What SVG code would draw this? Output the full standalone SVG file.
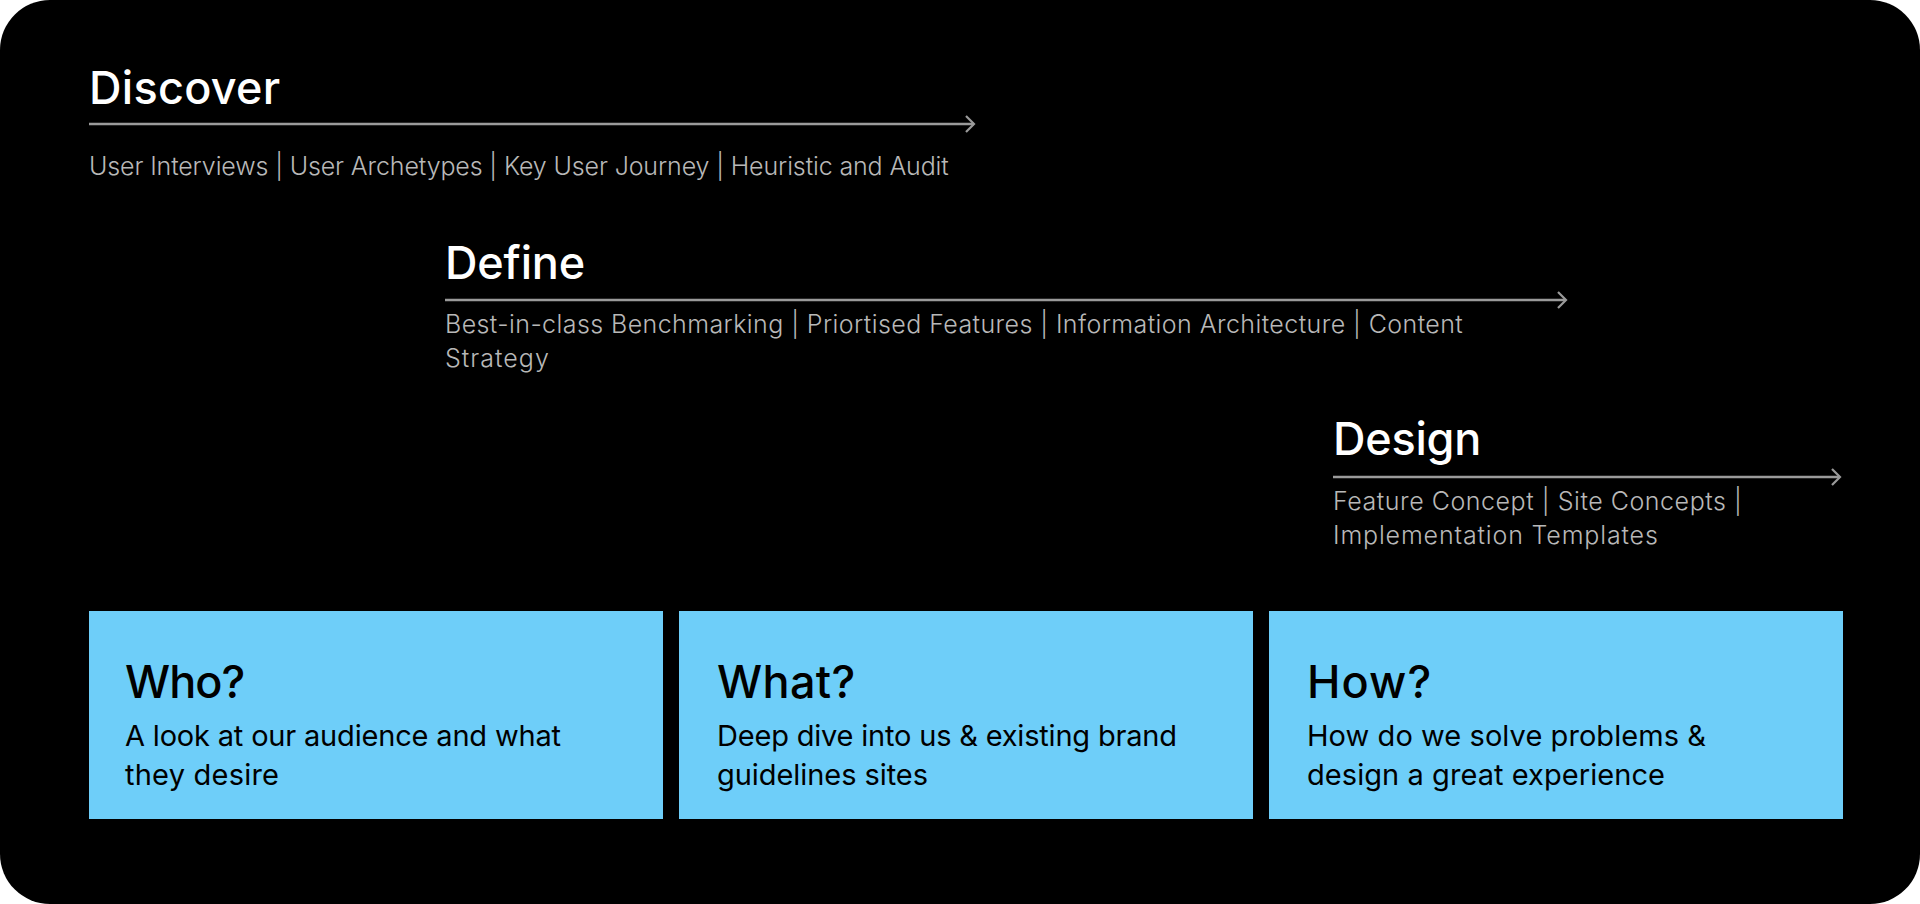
<svg xmlns="http://www.w3.org/2000/svg" width="1920" height="904" viewBox="0 0 1920 904">
<defs>
<style>
.h{font-family:Inter,"Liberation Sans",sans-serif;font-size:45px;font-weight:500;fill:#fff;letter-spacing:-1.2px}
.s{font-family:Inter,"Liberation Sans",sans-serif;font-size:25px;font-weight:300;fill:#b8b8b8;letter-spacing:-0.8px}
.bh{font-family:Inter,"Liberation Sans",sans-serif;font-size:45px;font-weight:500;fill:#000;letter-spacing:-1.2px}
.bs{font-family:Inter,"Liberation Sans",sans-serif;font-size:29px;font-weight:400;fill:#000;letter-spacing:-1px}
.box{fill:#6ECEF9}
.ln{stroke:#9a9a9a;stroke-width:2.5;fill:none}
</style>
<marker id="arr" viewBox="0 0 12 20" refX="10" refY="10" markerWidth="12" markerHeight="20" markerUnits="userSpaceOnUse" orient="auto">
<path d="M2,2 L10,10 L2,18" fill="none" stroke="#9a9a9a" stroke-width="2.2"/>
</marker>
</defs>
<rect x="0" y="0" width="1920" height="904" fill="#fff"/>
<rect x="0" y="0" width="1920" height="904" rx="50" fill="#000"/>
<g id="connectors">
<line class="ln" x1="89" y1="124" x2="974" y2="124" marker-end="url(#arr)"/>
<line class="ln" x1="445" y1="300" x2="1566" y2="300" marker-end="url(#arr)"/>
<line class="ln" x1="1333" y1="477" x2="1840" y2="477" marker-end="url(#arr)"/>
</g>
<g id="discover">
<text class="h" x="89" y="104" textLength="190">Discover</text>
<text class="s" x="89" y="175" textLength="859">User Interviews | User Archetypes | Key User Journey | Heuristic and Audit</text>
</g>
<g id="define">
<text class="h" x="445" y="279" textLength="139">Define</text>
<text class="s" x="445" y="333" textLength="1017">Best-in-class Benchmarking | Priortised Features | Information Architecture | Content</text>
<text class="s" x="445" y="367" textLength="103">Strategy</text>
</g>
<g id="design">
<text class="h" x="1333" y="455" textLength="147">Design</text>
<text class="s" x="1333" y="510" textLength="408">Feature Concept | Site Concepts |</text>
<text class="s" x="1333" y="544" textLength="324">Implementation Templates</text>
</g>
<g id="who">
<rect class="box" x="89" y="611" width="574" height="208"/>
<text class="bh" x="125" y="698" textLength="119">Who?</text>
<text class="bs" x="125" y="746" textLength="435">A look at our audience and what</text>
<text class="bs" x="125" y="785" textLength="153">they desire</text>
</g>
<g id="what">
<rect class="box" x="679" y="611" width="574" height="208"/>
<text class="bh" x="717" y="698" textLength="137">What?</text>
<text class="bs" x="717" y="746" textLength="459">Deep dive into us &amp; existing brand</text>
<text class="bs" x="717" y="785" textLength="210">guidelines sites</text>
</g>
<g id="how">
<rect class="box" x="1269" y="611" width="574" height="208"/>
<text class="bh" x="1307" y="698" textLength="123">How?</text>
<text class="bs" x="1307" y="746" textLength="398">How do we solve problems &amp;</text>
<text class="bs" x="1307" y="785" textLength="357">design a great experience</text>
</g>
</svg>
